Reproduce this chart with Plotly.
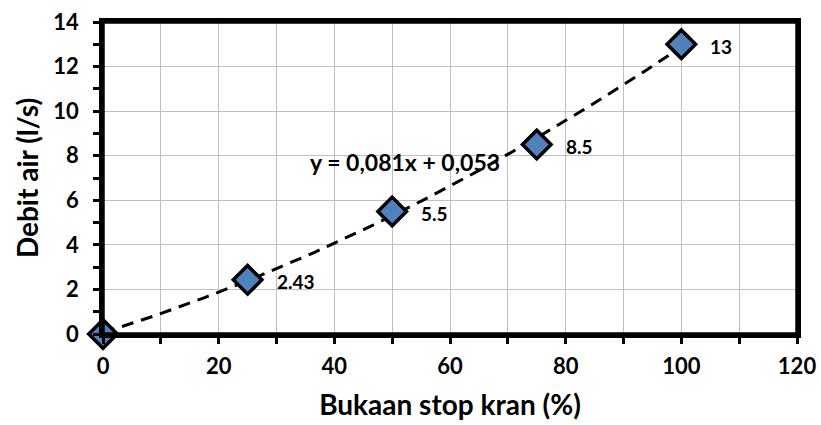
import numpy as np
import plotly.graph_objects as go

x_vals = [0, 25, 50, 75, 100]
y_vals = [0, 2.43, 5.5, 8.5, 13]
point_labels = ["", "2.43", "5.5", "8.5", "13"]
equation_text = "y = 0,081x + 0,053"
x_title = "Bukaan stop kran (%)"
y_title = "Debit air (l/s)"

FONT = "Lato"

coef = np.polyfit(x_vals, y_vals, 2)
xt = np.linspace(0, 100, 200)
yt = np.polyval(coef, xt)

fig = go.Figure()
fig.add_trace(go.Scatter(x=xt, y=yt, mode="lines",
                         line=dict(color="black", width=3, dash="12px,8px"),
                         hoverinfo="skip", showlegend=False, cliponaxis=False))
fig.add_trace(go.Scatter(x=x_vals, y=y_vals, mode="markers",
                         marker=dict(symbol="diamond", size=22, color="#4F81BD",
                                     line=dict(color="black", width=3.5)),
                         showlegend=False, cliponaxis=False))

for xv, yv, lab in zip(x_vals, y_vals, point_labels):
    if lab:
        fig.add_annotation(x=xv, y=yv, text=lab, showarrow=False,
                           xanchor="left", xshift=27, yshift=-2,
                           font=dict(family=FONT, size=19, color="black", weight="bold"))

fig.add_annotation(x=52.3, y=7.72, text=equation_text, showarrow=False,
                   font=dict(family=FONT, size=23, color="black", weight="bold"))

fig.add_shape(type="rect", xref="paper", yref="paper", x0=0, y0=0, x1=1, y1=1,
              line=dict(color="black", width=3.5), layer="above")

axis_common = dict(showline=True, linecolor="black", linewidth=3.5, mirror=True,
                   zeroline=False, automargin=False,
                   showgrid=True, gridcolor="#BFBFBF", gridwidth=1.3,
                   ticks="outside", ticklen=6, tickwidth=3, tickcolor="black",
                   tickfont=dict(family=FONT, size=22, color="black", weight="bold"))

fig.update_xaxes(range=[0, 120], tickmode="linear", tick0=0, dtick=20,
                 minor=dict(dtick=10, showgrid=True, gridcolor="#BFBFBF", gridwidth=1.3,
                            ticks="outside", ticklen=6, tickwidth=3, tickcolor="black"),
                 title=dict(text=x_title, font=dict(family=FONT, size=28, color="black", weight="bold"), standoff=18),
                 tickformat="d", ticklabelstandoff=4,
                 **axis_common)
fig.update_yaxes(range=[0, 14], tickmode="linear", tick0=0, dtick=2,
                 minor=dict(dtick=1, showgrid=False,
                            ticks="outside", ticklen=6, tickwidth=3, tickcolor="black"),
                 title=dict(text=y_title, font=dict(family=FONT, size=28, color="black", weight="bold"), standoff=8),
                 ticklabelstandoff=10,
                 **axis_common)

fig.update_layout(width=821, height=425,
                  margin=dict(l=103, r=24, t=22, b=91),
                  plot_bgcolor="white", paper_bgcolor="white",
                  font=dict(family=FONT, color="black"))

fig.write_html("out.html")
